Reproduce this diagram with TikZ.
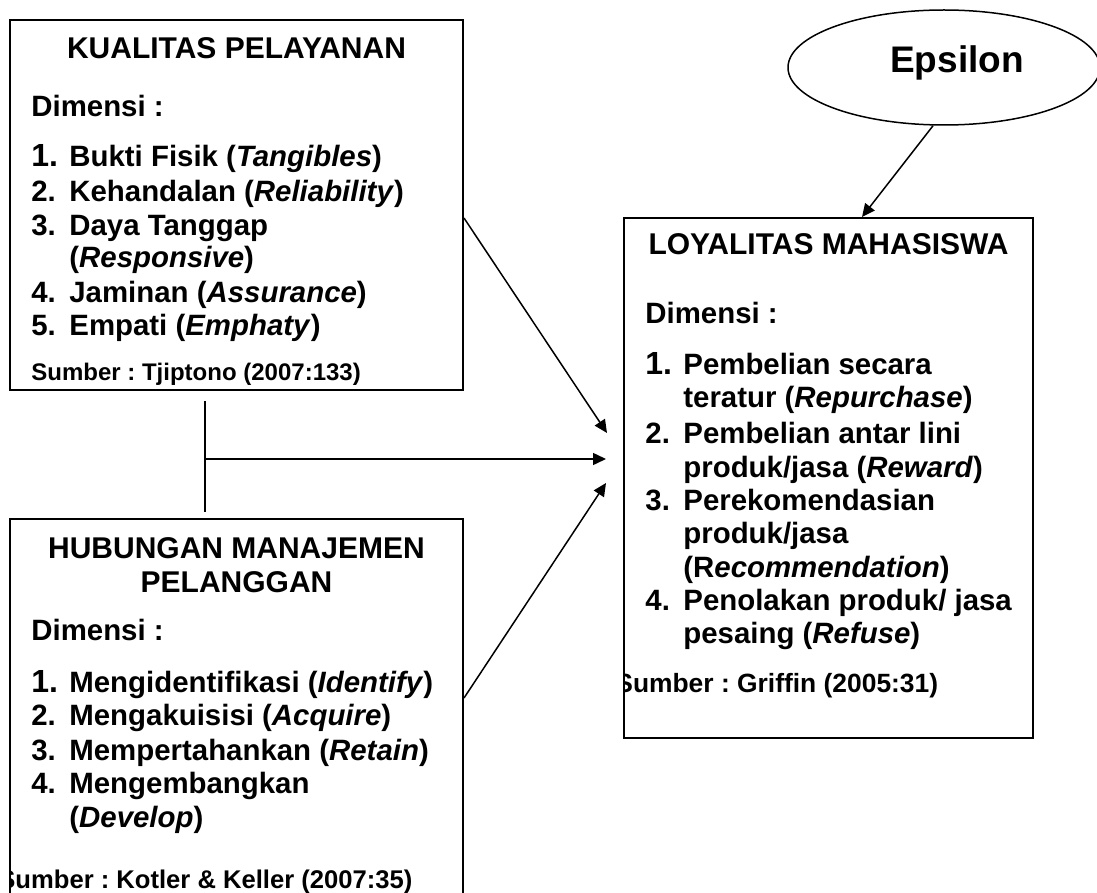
\documentclass[tikz,border=0pt]{standalone}
\usepackage{fontspec}
\setmainfont{Liberation Sans}
\usetikzlibrary{positioning}
\usetikzlibrary{arrows.meta}
\usetikzlibrary{shapes.geometric}
\frenchspacing

\begin{document}
\begin{tikzpicture}[x=0.5pt,y=-0.5pt,
    kotak/.style={draw,line width=1pt,rectangle,inner sep=0pt},
    judul/.style={font=\fontsize{15}{17}\selectfont\bfseries,inner sep=0pt,anchor=base},
    butir/.style={font=\fontsize{14.7}{17}\selectfont\bfseries,inner sep=0pt,anchor=base west},
    sumber/.style={font=\fontsize{#1}{14}\selectfont\bfseries,inner sep=0pt,anchor=base west},
    sumber/.default=12.8,
    panah/.style={line width=0.75pt,-{Triangle[length=6.5pt,width=6pt]}},
    garis/.style={line width=0.75pt}]

  \useasboundingbox (0,0) rectangle (1097,893);

  % kotak variabel
  \node[kotak, minimum width=226.5pt, minimum height=185pt] (kualitas) at (236.5,205) {};
  \node[kotak, minimum width=226.5pt, minimum height=191pt] (hubungan) at (236.5,710) {};
  \node[kotak, minimum width=204.5pt, minimum height=260pt] (loyalitas) at (828.5,478) {};
  \node[draw, line width=0.75pt, ellipse, minimum width=156pt, minimum height=57.5pt] (epsilon) at (944,67.5) {};
  \node[font=\fontsize{18.5}{20}\selectfont\bfseries, inner sep=0pt, anchor=base] (epsteks) at (957,73) {Epsilon};

  % KUALITAS PELAYANAN
  \node[judul] (kjudul) at (236.5,59) {KUALITAS PELAYANAN};
  \node[butir] (kdim) at (31,117) {Dimensi :};
  \foreach \y [count=\n] in {167,202,235,302,335} {
    \node[butir] (kn\n) at (31,\y) {\ifnum\n=1 \fontsize{16}{17}\selectfont\fi\n.};
  }
  \foreach \y/\teks [count=\n] in {
    167/Bukti Fisik (\textit{Tangibles}),
    202/Kehandalan (\textit{Reliability}),
    235/Daya Tanggap,
    268/(\textit{Responsive}),
    302/Jaminan (\textit{Assurance}),
    335/Empati (\textit{Emphaty})} {
      \node[butir] (kt\n) at (69,\y) {\teks};
    }
  \begin{scope}
    \clip (kualitas.north west) rectangle ([yshift=3.5pt]kualitas.south east);
    \node[sumber=12] (ksumber) at (31,380) {Sumber : Tjiptono (2007:133)};
  \end{scope}

  % HUBUNGAN MANAJEMEN PELANGGAN
  \node[judul] (hjudul1) at (236.5,558) {HUBUNGAN MANAJEMEN};
  \node[judul] (hjudul2) at (236.5,592) {PELANGGAN};
  \node[butir] (hdim) at (31,640) {Dimensi :};
  \foreach \y [count=\n] in {692,725,760,793} {
    \node[butir] (hn\n) at (31,\y) {\ifnum\n=1 \fontsize{16}{17}\selectfont\fi\n.};
  }
  \foreach \y/\teks [count=\n] in {
    692/Mengidentifikasi (\textit{Identify}),
    725/Mengakuisisi (\textit{Acquire}),
    760/Mempertahankan (\textit{Retain}),
    793/Mengembangkan,
    827/(\textit{Develop})} {
      \node[butir] (ht\n) at (69,\y) {\teks};
    }
  \begin{scope}
    \clip (hubungan.north west) rectangle (hubungan.south east);
    \node[sumber=12.8] (hsumber) at (-2,888) {Sumber : Kotler \& Keller (2007:35)};
  \end{scope}

  % LOYALITAS MAHASISWA
  \node[judul] (ljudul) at (828.5,255) {LOYALITAS MAHASISWA};
  \node[butir] (ldim) at (645,323) {Dimensi :};
  \foreach \y [count=\n] in {374,443,510,610} {
    \node[butir] (ln\n) at (645,\y) {\ifnum\n=1 \fontsize{16}{17}\selectfont\fi\n.};
  }
  \foreach \y/\teks [count=\n] in {
    374/Pembelian secara,
    407/teratur (\textit{Repurchase}),
    443/Pembelian antar lini,
    477/{produk/jasa (\textit{Reward})},
    510/Perekomendasian,
    543/{produk/jasa},
    577/(R\textit{ecommendation}),
    610/{Penolakan produk/ jasa},
    643/pesaing (\textit{Refuse})} {
      \node[butir] (lt\n) at (683,\y) {\teks};
    }
  \begin{scope}
    \clip (loyalitas.north west) rectangle (loyalitas.south east);
    \node[sumber=13.2] (lsumber) at (615,692) {Sumber : Griffin (2005:31)};
  \end{scope}

  % hubungan antar variabel
  \coordinate (atas) at (205,401);
  \coordinate (bawah) at (205,512);
  \coordinate (cabang) at (205,459);
  \coordinate (ujung1) at (607,433);
  \coordinate (ujung2) at (606,459);
  \coordinate (ujung3) at (606,483);
  \draw[garis] (atas) -- (bawah);
  \draw[panah] ([yshift=-6.5pt]kualitas.east) -- (ujung1);
  \draw[panah] (cabang) -- (ujung2);
  \draw[panah] ([yshift=6pt]hubungan.east) -- (ujung3);
  \draw[panah] ([xshift=-5.5pt]epsilon.south) -- ([xshift=16.75pt]loyalitas.north);
\end{tikzpicture}
\end{document}
